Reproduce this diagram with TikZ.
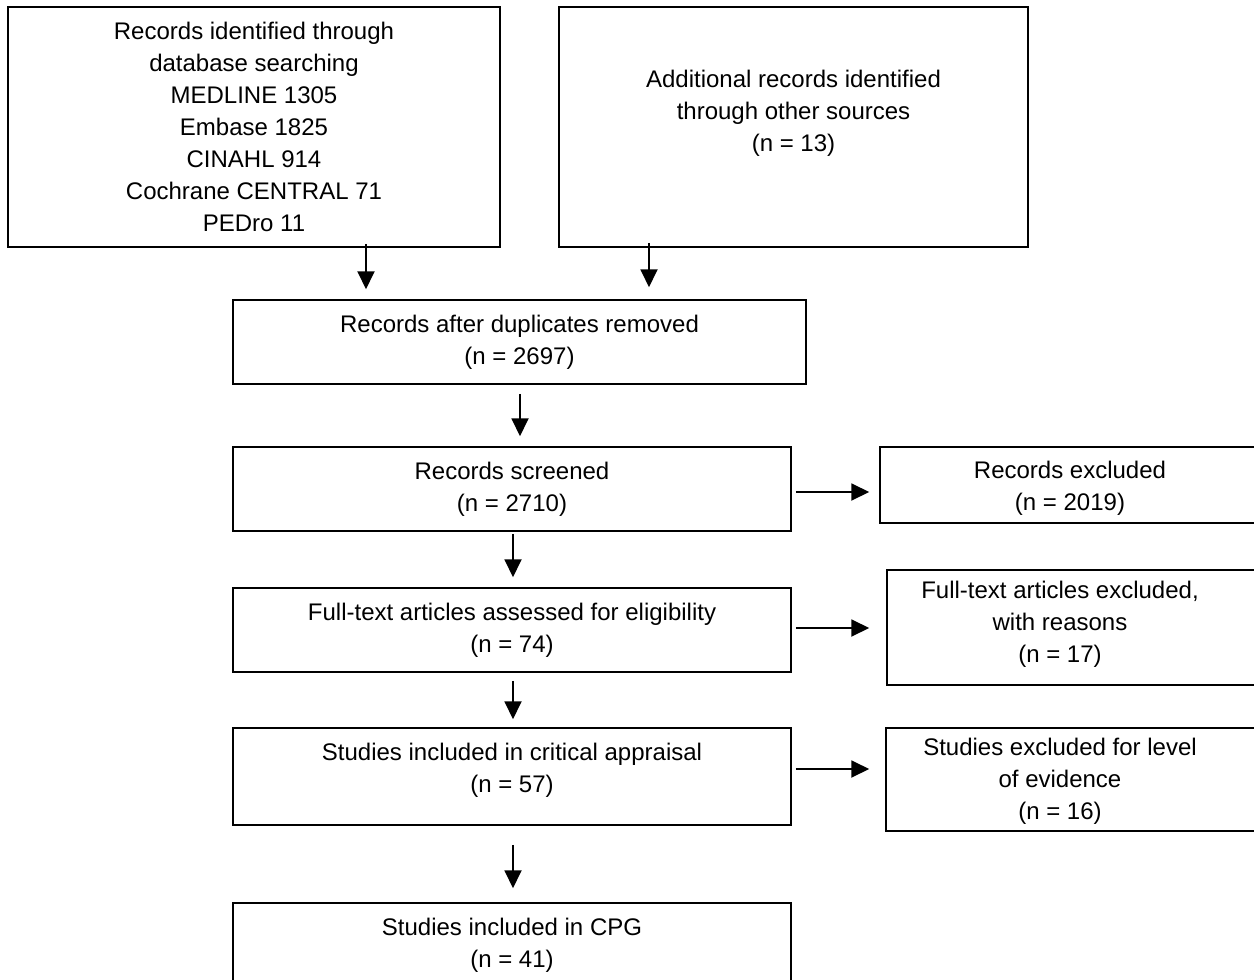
\documentclass[tikz,border=0pt]{standalone}
\usepackage{fontspec}
\setmainfont{Liberation Sans}
\usetikzlibrary{arrows.meta}
\begin{document}
\begin{tikzpicture}[x=1pt,y=-1pt,
  box/.style={draw, line width=1.5pt, inner sep=0pt, align=center,
    font=\fontsize{24}{32}\selectfont},
  txt/.style={align=center, inner sep=0pt, font=\fontsize{24}{32}\selectfont},
  arr/.style={line width=1.9pt, -{Triangle[length=18pt,width=17pt]}}]
\useasboundingbox (0,0) rectangle (1254,980);
% boxes
\node[box, minimum width=492pt, minimum height=240pt] (b1) at (254,127)
  {Records identified through\\database searching\\MEDLINE 1305\\Embase 1825\\CINAHL 914\\Cochrane CENTRAL 71\\PEDro 11};
\node[box, minimum width=469pt, minimum height=240pt] (b2) at (793.5,127) {};
\node[txt] (t2) at (793.5,113) {Additional records identified\\through other sources\\(n = 13)};
\node[box, minimum width=573pt, minimum height=84pt] (b3) at (519.5,342)
  {Records after duplicates removed\\(n = 2697)};
\node[box, minimum width=558pt, minimum height=84pt] (b4) at (512,489)
  {Records screened\\(n = 2710)};
\node[box, minimum width=558pt, minimum height=84pt] (b5) at (512,630)
  {Full-text articles assessed for eligibility\\(n = 74)};
\node[box, minimum width=558pt, minimum height=97pt] (b6) at (512,776.5) {};
\node[txt] (t6l) at (512,770) {Studies included in critical appraisal\\(n = 57)};
\node[box, minimum width=558pt, minimum height=84pt] (b7) at (512,945)
  {Studies included in CPG\\(n = 41)};
\node[box, minimum width=380pt, minimum height=76pt] (r1) at (1070,485) {};
\node[txt] (t4) at (1070,488) {Records excluded\\(n = 2019)};
\node[box, minimum width=373pt, minimum height=115pt] (r2) at (1073.5,627.5) {};
\node[txt] (t5) at (1060,624) {Full-text articles excluded,\\with reasons\\(n = 17)};
\node[box, minimum width=374pt, minimum height=103pt] (r3) at (1073,779.5) {};
\node[txt] (t6) at (1060,781) {Studies excluded for level\\of evidence\\(n = 16)};
% x positions
\coordinate (xa) at (366,0);
\coordinate (xb) at (649,0);
\coordinate (xc) at (520,0);
\coordinate (xd) at (513,0);
% arrows
\draw[arr, shorten <=-4pt, shorten >=10pt] (b1.south -| xa) -- (b3.north -| xa);
\draw[arr, shorten <=-5pt, shorten >=12pt] (b2.south -| xb) -- (b3.north -| xb);
\draw[arr, shorten <=9pt, shorten >=10pt] (b3.south -| xc) -- (b4.north -| xc);
\draw[arr, shorten <=2pt, shorten >=10pt] (b4.south -| xd) -- (b5.north -| xd);
\draw[arr, shorten <=8pt, shorten >=8pt] (b5.south -| xd) -- (b6.north -| xd);
\draw[arr, shorten <=19pt, shorten >=14pt] (b6.south -| xd) -- (b7.north -| xd);
\draw[arr, shorten <=4pt, shorten >=10pt] (b4.east |- 0,492) -- (r1.west |- 0,492);
\draw[arr, shorten <=4pt, shorten >=17pt] (b5.east |- 0,628) -- (r2.west |- 0,628);
\draw[arr, shorten <=4pt, shorten >=16pt] (b6.east |- 0,769) -- (r3.west |- 0,769);
\end{tikzpicture}
\end{document}
